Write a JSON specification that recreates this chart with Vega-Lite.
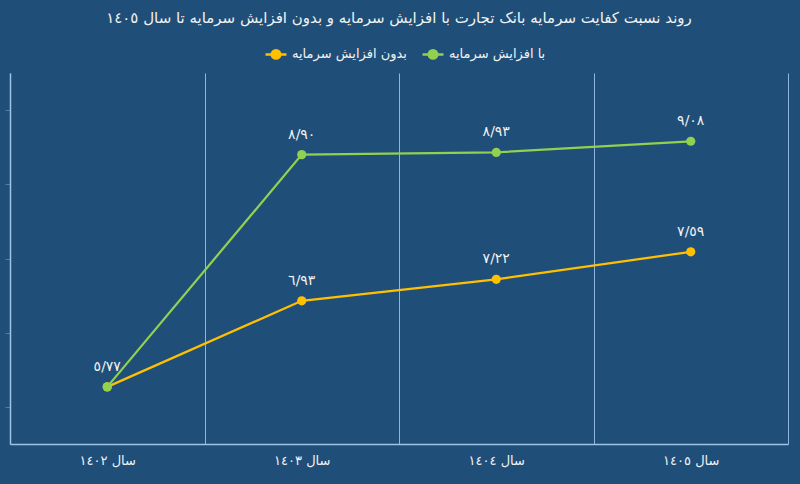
{
  "$schema": "https://vega.github.io/schema/vega-lite/v6.json",
  "width": 778,
  "height": 371,
  "autosize": {"type": "none"},
  "padding": {"left": 10, "top": 73, "right": 12, "bottom": 40},
  "background": "#1F4E79",
  "config": {
    "view": {"stroke": null},
    "font": "DejaVu Sans",
    "text": {"font": "DejaVu Sans"}
  },
  "title": {
    "text": "روند نسبت کفایت سرمایه بانک تجارت با افزایش سرمایه و بدون افزایش سرمایه تا سال ١٤٠٥",
    "color": "#F2F2F2",
    "fontSize": 15,
    "fontWeight": "normal",
    "font": "DejaVu Sans",
    "anchor": "middle",
    "offset": 16
  },
  "data": {
    "values": [
      {"year": "سال ١٤٠٢", "series": "بدون افزایش سرمایه", "value": 5.77, "label": ""},
      {"year": "سال ١٤٠٣", "series": "بدون افزایش سرمایه", "value": 6.93, "label": "٦/٩٣"},
      {"year": "سال ١٤٠٤", "series": "بدون افزایش سرمایه", "value": 7.22, "label": "٧/٢٢"},
      {"year": "سال ١٤٠٥", "series": "بدون افزایش سرمایه", "value": 7.59, "label": "٧/٥٩"},
      {"year": "سال ١٤٠٢", "series": "با افزایش سرمایه", "value": 5.77, "label": "٥/٧٧"},
      {"year": "سال ١٤٠٣", "series": "با افزایش سرمایه", "value": 8.90, "label": "٨/٩٠"},
      {"year": "سال ١٤٠٤", "series": "با افزایش سرمایه", "value": 8.93, "label": "٨/٩٣"},
      {"year": "سال ١٤٠٥", "series": "با افزایش سرمایه", "value": 9.08, "label": "٩/٠٨"}
    ]
  },
  "encoding": {
    "x": {
      "field": "year",
      "type": "nominal",
      "sort": null,
      "scale": {"paddingInner": 0, "paddingOuter": 0},
      "axis": {
        "title": null,
        "labelAngle": 0,
        "labelColor": "#F2F2F2",
        "labelFontSize": 13,
        "labelPadding": 10,
        "ticks": false,
        "domainColor": "#9DC3E6",
        "domainWidth": 1.5,
        "grid": true,
        "tickBand": "extent",
        "gridColor": "#8FB4DD",
        "gridWidth": 1
      }
    },
    "y": {
      "field": "value",
      "type": "quantitative",
      "scale": {"domain": [5, 10], "nice": false, "zero": false},
      "axis": {
        "title": null,
        "labels": false,
        "grid": false,
        "values": [5.5, 6.5, 7.5, 8.5, 9.5],
        "tickColor": "#4F7DAA",
        "tickSize": 5,
        "domainColor": "#9DC3E6",
        "domainWidth": 1.5
      }
    },
    "color": {
      "field": "series",
      "type": "nominal",
      "scale": {
        "domain": ["بدون افزایش سرمایه", "با افزایش سرمایه"],
        "range": ["#FFC000", "#92D050"]
      },
      "legend": {
        "title": null,
        "orient": "none",
        "legendX": 254,
        "legendY": -31,
        "direction": "horizontal",
        "labelColor": "#F2F2F2",
        "labelFontSize": 13,
        "labelFont": "DejaVu Sans",
        "symbolType": "M-1,0H1M0.4,0A0.4,0.4 0 1,1 -0.4,0A0.4,0.4 0 1,1 0.4,0Z",
        "symbolSize": 440,
        "symbolStrokeWidth": 2.5,
        "columnPadding": 10,
        "labelOffset": 4,
        "encode": {
          "symbols": {"update": {"fill": {"scale": "color", "field": "value"}, "fillOpacity": {"value": 1}}}
        }
      }
    }
  },
  "layer": [
    {
      "mark": {"type": "line", "strokeWidth": 2.25}
    },
    {
      "mark": {"type": "point", "filled": true, "size": 85, "opacity": 1}
    },
    {
      "mark": {"type": "text", "dy": -20, "fontSize": 14, "font": "DejaVu Sans"},
      "encoding": {
        "text": {"field": "label"},
        "color": {"value": "#F2F2F2"}
      }
    }
  ]
}
